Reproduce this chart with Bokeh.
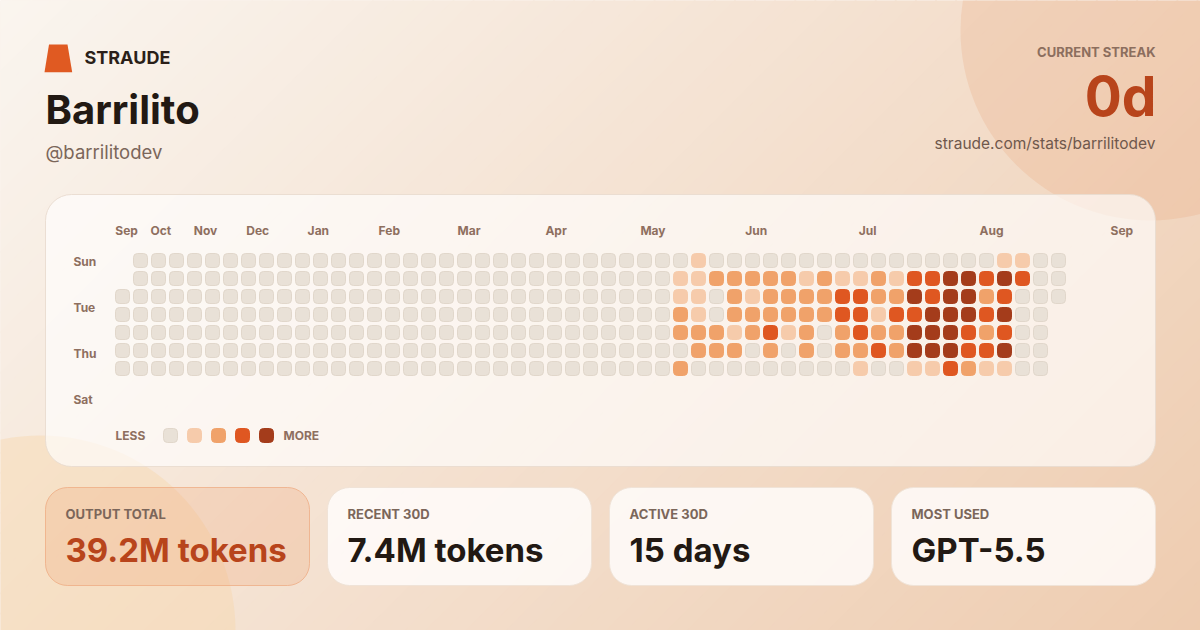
import numpy as np
from bokeh.plotting import figure
from bokeh.models import Range1d, Label, ColumnDataSource
from bokeh.embed import file_html
from bokeh.resources import INLINE
from bokeh.core.properties import value

# ---------------- data ----------------
brand = "STRAUDE"
user_name = "Barrilito"
user_handle = "@barrilitodev"
streak_label = "CURRENT STREAK"
streak_value = "0d"
profile_url = "straude.com/stats/barrilitodev"

month_labels = ["Sep", "Oct", "Nov", "Dec", "Jan", "Feb", "Mar", "Apr", "May", "Jun", "Jul", "Aug", "Sep"]
month_week_pos = [0.23, 2.13, 4.61, 7.51, 10.88, 14.82, 19.25, 24.09, 29.47, 35.21, 41.39, 48.28, 55.52]
weekday_labels = ["Sun", "Tue", "Thu", "Sat"]

n_weeks = 53
first_day_row = 2     # first week starts on Tuesday
last_day_row = 2      # last week ends on Tuesday
active_start_week = 31
# activity level 0-4 per day (Sun..Sat) for weeks 31..50
activity_levels = [
    [0, 1, 1, 2, 2, 0, 2],
    [1, 1, 1, 1, 2, 2, 0],
    [0, 2, 0, 0, 2, 2, 0],
    [0, 2, 2, 2, 1, 2, 0],
    [0, 2, 1, 2, 2, 0, 0],
    [0, 2, 2, 2, 3, 2, 0],
    [0, 2, 2, 2, 1, 0, 0],
    [0, 1, 2, 2, 2, 2, 0],
    [0, 2, 2, 2, 0, 0, 0],
    [0, 1, 3, 3, 2, 2, 0],
    [0, 1, 3, 3, 3, 2, 1],
    [0, 2, 2, 1, 2, 3, 0],
    [0, 1, 2, 3, 2, 2, 0],
    [0, 3, 4, 3, 4, 4, 1],
    [0, 3, 3, 4, 4, 4, 1],
    [0, 4, 4, 4, 4, 4, 3],
    [0, 4, 4, 4, 3, 3, 2],
    [0, 3, 2, 3, 2, 3, 1],
    [1, 4, 3, 4, 3, 4, 1],
    [1, 3, 0, 0, 0, 0, 0],
]
level_colors = ["#e9e1d7", "#f6cbab", "#f0a26a", "#df5721", "#a43c1b"]
legend_less, legend_more = "LESS", "MORE"

stat_labels = ["OUTPUT TOTAL", "RECENT 30D", "ACTIVE 30D", "MOST USED"]
stat_values = ["39.2M tokens", "7.4M tokens", "15 days", "GPT-5.5"]

# ---------------- layout constants ----------------
FONT = "Inter"
W, H = 1200, 630
PITCH = 18.0
GRID_X = 122.0
GRID_Y = 260.0
CELL = 14.0
SHIFT = 0.38   # baseline correction (em) for the renderer's text placement

p = figure(width=W, height=H, x_range=Range1d(0, W), y_range=Range1d(H, 0),
           output_backend="svg", toolbar_location=None, min_border=0,
           x_axis_type=None, y_axis_type=None)
p.grid.visible = False
p.outline_line_color = None
p.background_fill_color = "#f5e8dc"
p.border_fill_color = "#f5e8dc"

p.extra_x_ranges = {"wk": Range1d(-GRID_X / PITCH, (W - GRID_X) / PITCH)}
p.extra_y_ranges = {"day": Range1d((H - GRID_Y) / PITCH, -GRID_Y / PITCH)}

# ---------------- background: diagonal gradient strips ----------------
c0 = np.array([250, 245, 239])
c1 = np.array([238, 204, 176])
n_strips = 92
smax = W + H
edges = np.linspace(-10, smax + 10, n_strips + 1)
gxs, gys, gcol = [], [], []
for a, b in zip(edges[:-1], edges[1:]):
    tt = np.clip(((a + b) / 2) / smax, 0, 1)
    c = c0 + (c1 - c0) * tt
    gxs.append([a + 40, b + 41, b - 700, a - 701])
    gys.append([-40, -40, 700, 700])
    gcol.append("#%02x%02x%02x" % tuple(int(round(v)) for v in c))
p.patches(xs=gxs, ys=gys, fill_color=gcol, line_color=gcol, line_width=1)

# decorative circles
p.circle(x=[1150], y=[30], radius=190, fill_color="#e8a070", fill_alpha=0.22, line_color=None)
p.circle(x=[40], y=[630], radius=195, fill_color="#f7d4a6", fill_alpha=0.38, line_color=None)

# ---------------- panels ----------------
p.rect(x=[(45 + 1155) / 2], y=[(194 + 466) / 2], width=1110, height=272, border_radius=26,
       fill_color="#ffffff", fill_alpha=0.64, line_color="#e9dccf", line_alpha=0.9, line_width=1)

card_left = [45, 327, 609, 891]
card_w = 264
card_cx = [cl + card_w / 2 for cl in card_left]
p.rect(x=card_cx[:1], y=[536], width=card_w, height=98, border_radius=22,
       fill_color="#ef9e6c", fill_alpha=0.24, line_color="#eeaa80", line_alpha=0.75, line_width=1)
p.rect(x=card_cx[1:], y=[536] * 3, width=card_w, height=98, border_radius=22,
       fill_color="#fffdfb", fill_alpha=0.84, line_color="#f0e3d7", line_alpha=1, line_width=1)

# ---------------- logo ----------------
p.patch(x=[44, 71.7, 67, 48.5], y=[71.7, 71.7, 44, 44], fill_color="#e05a22", line_color=None)

def label(x, y, text, size, color, bold=True, align="left"):
    p.add_layout(Label(x=x, y=y - SHIFT * size, text=text, text_font=FONT, text_font_size=f"{size}px",
                       text_font_style="bold" if bold else "normal", text_color=color,
                       text_align=align, text_baseline="alphabetic"))

label(84, 64, brand, 18, "#2b1f19")
label(45, 124, user_name, 40, "#221913")
label(45, 158.3, user_handle, 18.5, "#7b665a", bold=False)
label(1155, 56.7, streak_label, 13, "#8c6e5e", align="right")
label(1156, 116, streak_value, 55, "#b8441b", align="right")
label(1155, 149, profile_url, 15.5, "#6f584c", bold=False, align="right")

# ---------------- heatmap ----------------
weeks, days, colors, lcolors = [], [], [], []
for w in range(n_weeks):
    for d in range(7):
        if w == 0 and d < first_day_row:
            continue
        if w == n_weeks - 1 and d > last_day_row:
            continue
        k = w - active_start_week
        lvl = activity_levels[k][d] if 0 <= k < len(activity_levels) else 0
        weeks.append(w)
        days.append(d)
        colors.append(level_colors[lvl])
        lcolors.append("#e1d7cb" if lvl == 0 else level_colors[lvl])
src = ColumnDataSource(dict(week=weeks, day=days, color=colors, lcolor=lcolors))
p.rect(x="week", y="day", width=CELL / PITCH, height=CELL / PITCH, source=src,
       x_range_name="wk", y_range_name="day", fill_color="color", line_color="lcolor",
       line_width=1, border_radius=4)

p.text(x=month_week_pos, y=[234.3 - SHIFT * 12] * len(month_labels), text=month_labels, x_range_name="wk",
       text_font=value(FONT), text_font_size="12px", text_font_style="bold", text_color="#8e6f5f",
       text_align="center", text_baseline="alphabetic")
p.text(x=[73] * 4, y=[yy - SHIFT * 12 for yy in (266, 312, 358, 404)], text=weekday_labels,
       text_font=value(FONT), text_font_size="12px", text_font_style="bold", text_color="#8e6f5f",
       text_align="left", text_baseline="alphabetic")

# legend
lx = [170 + 24 * i for i in range(len(level_colors))]
p.rect(x=lx, y=[435] * len(lx), width=CELL, height=CELL, fill_color=level_colors,
       line_color=["#e1d7cb"] + level_colors[1:], line_width=1, border_radius=4)
label(115, 439.3, legend_less, 12, "#8e6f5f")
label(283, 439.3, legend_more, 12, "#8e6f5f")

# ---------------- stat cards ----------------
for i, cl in enumerate(card_left):
    label(cl + 20, 518.3, stat_labels[i], 13, "#7b665a")
    label(cl + 20, 561.7, stat_values[i], 33, "#b8441b" if i == 0 else "#221913")

open("out.html", "w").write(file_html(p, INLINE))
